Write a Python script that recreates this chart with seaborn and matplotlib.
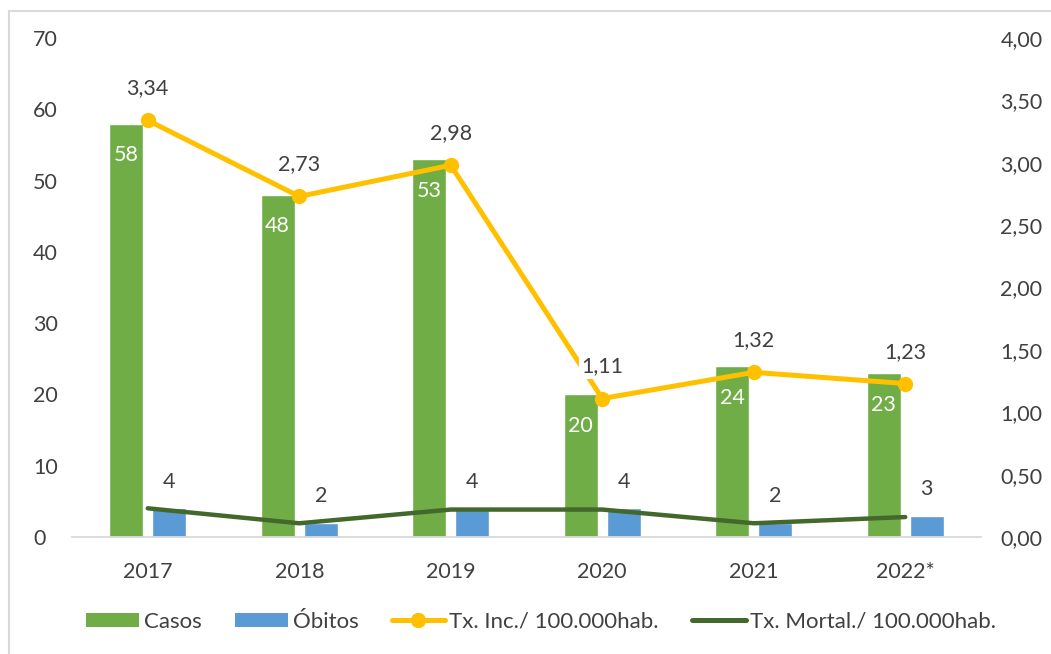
import numpy as np
import pandas as pd
import matplotlib
matplotlib.use("Agg")
import matplotlib.pyplot as plt
import seaborn as sns
from matplotlib.patches import Rectangle, Patch
from matplotlib.lines import Line2D
from matplotlib.ticker import FuncFormatter, MultipleLocator

# Dados anuais
anos = ["2017", "2018", "2019", "2020", "2021", "2022*"]
casos = [58, 48, 53, 20, 24, 23]
obitos = [4, 2, 4, 4, 2, 3]
tx_inc = [3.34, 2.73, 2.98, 1.11, 1.32, 1.23]
tx_mort = [0.23, 0.11, 0.22, 0.22, 0.11, 0.16]

VERDE = "#70AD47"
AZUL = "#5B9BD5"
AMARELO = "#FFC000"
VERDE_ESC = "#43682B"
TEXTO = "#404040"
CINZA = "#D9D9D9"

sns.set_theme(style="white")
plt.rcParams["font.family"] = ["Lato", "DejaVu Sans"]

df = pd.DataFrame({
    "ano": anos * 2,
    "valor": casos + obitos,
    "serie": ["Casos"] * len(anos) + ["Óbitos"] * len(anos),
})

fig = plt.figure(figsize=(10.51, 6.54), dpi=100)
ax = fig.add_axes([72 / 1051, 117 / 654, 909 / 1051, 499 / 654])

sns.barplot(data=df, x="ano", y="valor", hue="serie", order=anos,
            hue_order=["Casos", "Óbitos"], palette=[VERDE, AZUL],
            width=0.57, gap=0.21, saturation=1, legend=False, ax=ax)

ax.set_ylim(0, 70)
ax.yaxis.set_major_locator(MultipleLocator(10))
ax.set_xlim(-0.5, len(anos) - 0.5)
ax.set_xlabel("")
ax.set_ylabel("")
for s in ["top", "right", "left"]:
    ax.spines[s].set_visible(False)
ax.spines["bottom"].set_color(CINZA)
ax.spines["bottom"].set_linewidth(1.3)
ax.tick_params(axis="both", length=0, labelsize=15.5, colors=TEXTO)
ax.tick_params(axis="x", pad=18)
ax.tick_params(axis="y", pad=28)
for lab in ax.get_yticklabels():
    lab.set_horizontalalignment("left")

cont_casos, cont_obitos = ax.containers[0], ax.containers[1]
ax.bar_label(cont_casos, labels=[str(v) for v in casos], padding=-30,
             color="white", fontsize=15.5)
ax.bar_label(cont_obitos, labels=[str(v) for v in obitos], padding=12,
             color=TEXTO, fontsize=15.5)

ax2 = ax.twinx()
x = np.arange(len(anos))
sns.lineplot(x=x, y=tx_mort, ax=ax2, color=VERDE_ESC, linewidth=3.2,
             solid_capstyle="round", legend=False)
sns.lineplot(x=x, y=tx_inc, ax=ax2, color=AMARELO, linewidth=3.6,
             marker="o", markersize=11, markeredgewidth=0,
             legend=False)
ax2.set_ylim(0, 4)
ax2.yaxis.set_major_locator(MultipleLocator(0.5))
ax2.yaxis.set_major_formatter(FuncFormatter(lambda v, p: f"{v:.2f}".replace(".", ",")))
ax2.set_ylabel("")
for s in ax2.spines.values():
    s.set_visible(False)
ax2.tick_params(axis="y", length=0, labelsize=15.5, colors=TEXTO, pad=14)
ax2.grid(False)
ax.grid(False)

for xi, v in zip(x, tx_inc):
    ax2.annotate(f"{v:.2f}".replace(".", ","), (xi, v), xytext=(0, 23),
                 textcoords="offset points", ha="center", va="center",
                 fontsize=15.5, color=TEXTO,
                 bbox=dict(boxstyle="square,pad=0.1", fc="white", ec="none"))

handles = [
    Patch(facecolor=VERDE, edgecolor="none", label="Casos"),
    Patch(facecolor=AZUL, edgecolor="none", label="Óbitos"),
    Line2D([], [], color=AMARELO, lw=3.6, marker="o", markersize=10,
           label="Tx. Inc./ 100.000hab."),
    Line2D([], [], color=VERDE_ESC, lw=3.6, label="Tx. Mortal./ 100.000hab."),
]
fig.legend(handles=handles, loc="center", bbox_to_anchor=(541 / 1051, 1 - 622 / 654),
           ncol=4, frameon=False, fontsize=16, handlelength=2.4,
           handleheight=0.63, handletextpad=0.2, columnspacing=1.5,
           labelcolor=TEXTO)

fig.patches.append(Rectangle((9 / 1051, -0.1), 1.2, 0.1 + (1 - 11 / 654),
                             transform=fig.transFigure, fill=False,
                             edgecolor=CINZA, linewidth=1.5, zorder=0))

fig.savefig("out.png", dpi=100, facecolor="white")
